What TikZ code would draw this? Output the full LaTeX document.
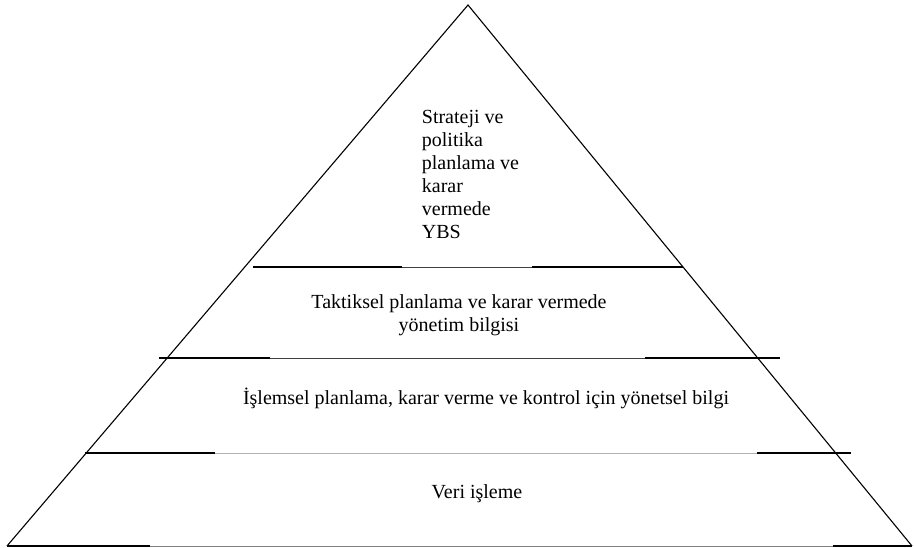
\documentclass[tikz,border=0pt]{standalone}
\usepackage{fontspec}
\setmainfont{Liberation Serif}
\begin{document}
\begin{tikzpicture}[x=1pt,y=-1pt,
  edge/.style={line width=1.1pt,black},
  rulethick/.style={line width=1.6pt,black},
  rulethin/.style={line width=0.7pt,black!75},
  label/.style={font=\fontsize{20}{23}\selectfont,inner sep=0pt}]
\useasboundingbox (0,0) rectangle (914,548);
% outline of the pyramid
\coordinate (apex) at (468,5);
\coordinate (bl) at (7,546);
\coordinate (br) at (912,546);
\draw[edge,line join=miter] (bl) -- (apex) -- (br);
% level 1 divider
\coordinate (a1) at (253,267); \coordinate (a2) at (402,267);
\coordinate (a3) at (532,267); \coordinate (a4) at (683,267);
\draw[rulethin] (a2) -- (a3);
\draw[rulethick] (a1) -- (a2) (a3) -- (a4);
% level 2 divider
\coordinate (b1) at (159,358); \coordinate (b2) at (270,358);
\coordinate (b3) at (645,358); \coordinate (b4) at (780,358);
\draw[rulethin] (b2) -- (b3);
\draw[rulethick] (b1) -- (b2) (b3) -- (b4);
% level 3 divider
\coordinate (c1) at (85,453); \coordinate (c2) at (215,453);
\coordinate (c3) at (757,453); \coordinate (c4) at (851,453);
\draw[rulethin,black!30] (c2) -- (c3);
\draw[rulethick] (c1) -- (c2) (c3) -- (c4);
% base
\coordinate (d1) at (7,546); \coordinate (d2) at (150,546);
\coordinate (d3) at (833,546); \coordinate (d4) at (912,546);
\draw[rulethin,black!50] (d2) -- (d3);
\draw[rulethick] (d1) -- (d2) (d3) -- (d4);
% level texts
\node[label,align=left,anchor=north west] (top) at (421.7,110)
  {Strateji ve\\politika\\planlama ve\\karar\\vermede\\YBS};
\node[label,align=center,anchor=north] (tactic) at (459,294)
  {Taktiksel planlama ve karar vermede\\yönetim bilgisi};
\node[label,anchor=base] (oper) at (486,405)
  {İşlemsel planlama, karar verme ve kontrol için yönetsel bilgi};
\node[label,anchor=base] (data) at (477,498.5) {Veri işleme};
\end{tikzpicture}
\end{document}
